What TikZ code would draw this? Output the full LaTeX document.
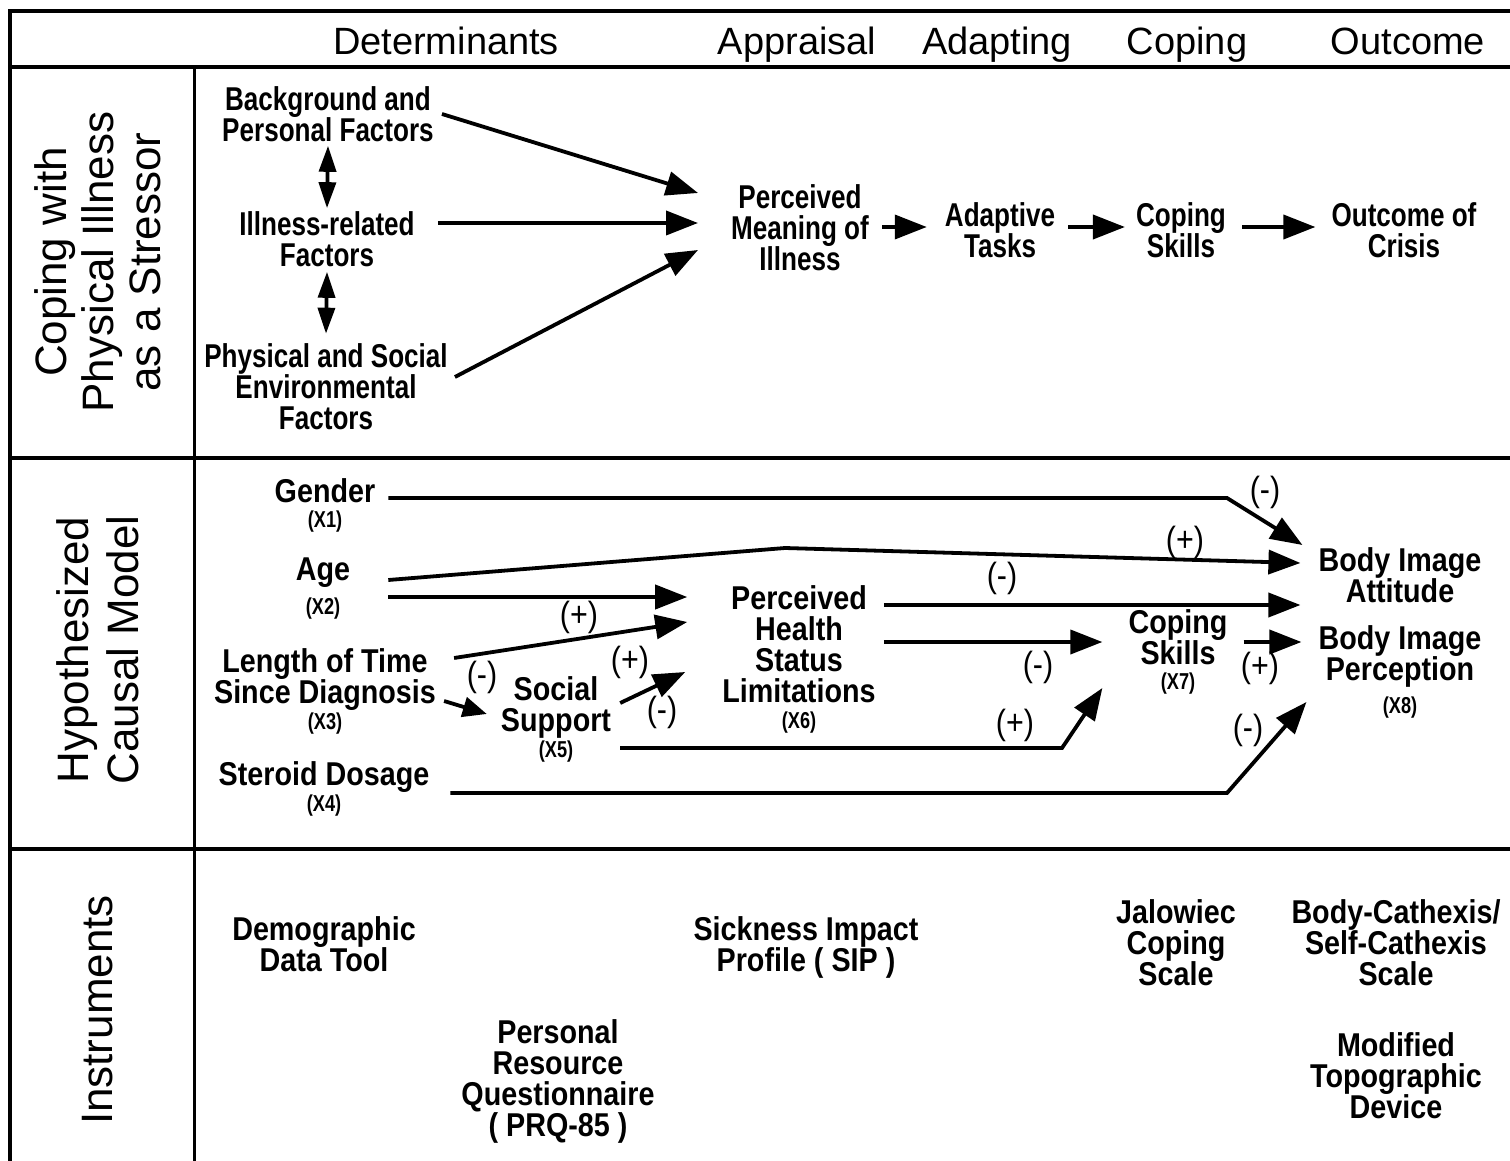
\documentclass[tikz,border=0pt]{standalone}
\usepackage{fontspec}
\setmainfont{Liberation Sans}
\newfontfamily\narrowsans[FakeStretch=0.79]{Liberation Sans}
\newfontfamily\condsans[FakeStretch=0.87]{Liberation Sans}
\usetikzlibrary{arrows.meta}

\newcommand{\headfont}{\fontsize{38}{42}\selectfont}
\newcommand{\sidefont}{\fontsize{44}{47}\selectfont}
\newcommand{\topfont}{\narrowsans\bfseries\fontsize{33}{31}\selectfont}
\newcommand{\midfont}{\condsans\bfseries\fontsize{33}{31}\selectfont}
\newcommand{\idxfont}{\narrowsans\bfseries\fontsize{23}{24}\selectfont}
\newcommand{\signfont}{\condsans\fontsize{35}{36}\selectfont}

\begin{document}
\begin{tikzpicture}[x=1pt,y=-1pt,
  gridline/.style={line width=3.5pt},
  arr/.style={line width=3.8pt,-{Triangle[length=32pt,width=24pt]}},
  shortarr/.style={line width=3.8pt,-{Triangle[length=24pt,width=20pt]}},
  dblarr/.style={line width=3.8pt,{Triangle[length=26pt,width=17pt]}-{Triangle[length=26pt,width=17pt]}},
  colhead/.style={font=\headfont,inner sep=0pt,anchor=base},
  sidelabel/.style={font=\sidefont,align=center,rotate=90,inner sep=0pt},
  toptext/.style={font=\topfont,align=center,inner sep=0pt},
  midtext/.style={font=\midfont,align=center,inner sep=0pt},
  signlbl/.style={font=\signfont,inner sep=0pt}]
\useasboundingbox (0,0) rectangle (1510,1161);

\draw[gridline] (10,1161) -- (10,11) -- (1510,11);
\draw[gridline] (10,67) -- (1510,67);
\draw[gridline] (10,458) -- (1510,458);
\draw[gridline] (10,849) -- (1510,849);
\draw[line width=3pt] (194,67) -- (194,1161);

\node[colhead] (hdet) at (446,55) {Determinants};
\node[colhead] (happ) at (797,55) {Appraisal};
\node[colhead] (hadp) at (997,55) {Adapting};
\node[colhead] (hcop) at (1187,55) {Coping};
\node[colhead] (hout) at (1408,55) {Outcome};

\node[sidelabel] (lstress) at (98,262) {Coping with\\Physical Illness\\as a Stressor};
\node[sidelabel] (lmodel) at (98,650) {Hypothesized\\[3pt]Causal Model};
\node[sidelabel] (linstr) at (98,1010) {Instruments};

\node[toptext] (bg) at (328,114) {Background and\\Personal Factors};
\node[toptext] (ill) at (327,239) {Illness-related\\Factors};
\node[toptext] (env) at (326,387) {Physical and Social\\Environmental\\Factors};
\node[toptext] (meaning) at (800,228) {Perceived\\Meaning of\\Illness};
\node[toptext] (tasks) at (1000,230) {Adaptive\\Tasks};
\node[toptext] (skills) at (1181,230) {Coping\\Skills};
\node[toptext] (crisis) at (1404,230) {Outcome of\\Crisis};

\draw[dblarr] ([yshift=-4pt]bg.south) -- ([yshift=3pt]ill.north);
\draw[dblarr] ([yshift=-5pt]ill.south) -- ([yshift=10pt]env.north);
\draw[arr] ([xshift=8pt]bg.east) -- ([xshift=-33pt,yshift=35pt]meaning.west);
\draw[arr] ([xshift=23pt,yshift=16pt]ill.east) -- ([xshift=-33pt,yshift=5pt]meaning.west);
\draw[arr] ([xshift=7pt,yshift=10pt]env.east) -- ([xshift=-33pt,yshift=-22pt]meaning.west);
\draw[arr] ([xshift=13pt,yshift=1pt]meaning.east) -- ([xshift=-18pt,yshift=3pt]tasks.west);
\draw[arr] ([xshift=13pt,yshift=3pt]tasks.east) -- ([xshift=-11pt,yshift=3pt]skills.west);
\draw[arr] ([xshift=16pt,yshift=3pt]skills.east) -- ([xshift=-16pt,yshift=3pt]crisis.west);

\node[midtext] (gender) at (325,505) {Gender\\[-6pt]{\idxfont (X1)}};
\node[midtext] (age) at (323,589) {Age\\[3pt]{\idxfont (X2)}};
\node[midtext] (length) at (325,691) {Length of Time\\Since Diagnosis\\[-5pt]{\idxfont (X3)}};
\node[midtext] (steroid) at (324,789) {Steroid Dosage\\[-5pt]{\idxfont (X4)}};
\node[midtext] (social) at (556,719) {Social\\Support\\[-5pt]{\idxfont (X5)}};
\node[midtext] (health) at (799,659) {Perceived\\Health\\Status\\Limitations\\[-5pt]{\idxfont (X6)}};
\node[midtext] (copsk) at (1178,652) {Coping\\Skills\\[-6pt]{\idxfont (X7)}};
\node[midtext] (attitude) at (1400,575) {Body Image\\Attitude};
\node[midtext] (percep) at (1400,672) {Body Image\\Perception\\[2pt]{\idxfont (X8)}};

\coordinate (gbend) at (1227,498);
\coordinate (apeak) at (785,548);
\coordinate (sbend) at (1062,748);
\coordinate (dbend) at (1227,793);

\draw[arr] ([xshift=13pt,yshift=7pt]gender.east) -- (gbend) -- ([xshift=-16pt,yshift=30pt]attitude.west);
\draw[arr] ([xshift=38pt,yshift=9pt]age.east) -- (apeak) -- ([xshift=-18pt,yshift=12pt]attitude.west);
\draw[arr] ([xshift=38pt,yshift=-8pt]age.east) -- ([xshift=-35pt,yshift=62pt]health.west);
\draw[arr] ([xshift=18pt,yshift=33pt]length.east) -- ([xshift=-35pt,yshift=37pt]health.west);
\draw[shortarr] ([xshift=8pt,yshift=-10pt]length.east) -- ([xshift=-14pt,yshift=5pt]social.west);
\draw[arr] ([xshift=9pt,yshift=16pt]social.east) -- ([xshift=-37pt,yshift=-13pt]health.west);
\draw[arr] ([xshift=9pt,yshift=-29pt]social.east) -- (sbend) -- ([xshift=-26pt,yshift=-36pt]copsk.west);
\draw[arr] ([xshift=8pt,yshift=54pt]health.east) -- ([xshift=-18pt,yshift=-30pt]attitude.west);
\draw[arr] ([xshift=8pt,yshift=17pt]health.east) -- ([xshift=-26pt,yshift=10pt]copsk.west);
\draw[arr] ([xshift=16pt,yshift=10pt]copsk.east) -- ([xshift=-17pt,yshift=30pt]percep.west);
\draw[arr] ([xshift=21pt,yshift=-4pt]steroid.east) -- (dbend) -- ([xshift=-12pt,yshift=-30pt]percep.west);

\node[signlbl] (sg1) at (1265,492) {(-)};
\node[signlbl] (sg2) at (1185,542) {(+)};
\node[signlbl] (sg3) at (1002,578) {(-)};
\node[signlbl] (sg4) at (579,617) {(+)};
\node[signlbl] (sg5) at (630,662) {(+)};
\node[signlbl] (sg6) at (662,712) {(-)};
\node[signlbl] (sg7) at (482,677) {(-)};
\node[signlbl] (sg8) at (1038,667) {(-)};
\node[signlbl] (sg9) at (1015,725) {(+)};
\node[signlbl] (sg10) at (1260,668) {(+)};
\node[signlbl] (sg11) at (1248,730) {(-)};

\node[midtext] (demo) at (324,944) {Demographic\\Data Tool};
\node[midtext] (sip) at (806,947) {Sickness Impact\\Profile ( SIP )};
\node[midtext] (prq) at (558,1081) {Personal\\Resource\\Questionnaire\\( PRQ-85 )};
\node[midtext] (jal) at (1176,943) {Jalowiec\\Coping\\Scale};
\node[midtext] (cath) at (1396,943) {Body-Cathexis/\\Self-Cathexis\\Scale};
\node[midtext] (topo) at (1396,1076) {Modified\\Topographic\\Device};
\end{tikzpicture}
\end{document}
